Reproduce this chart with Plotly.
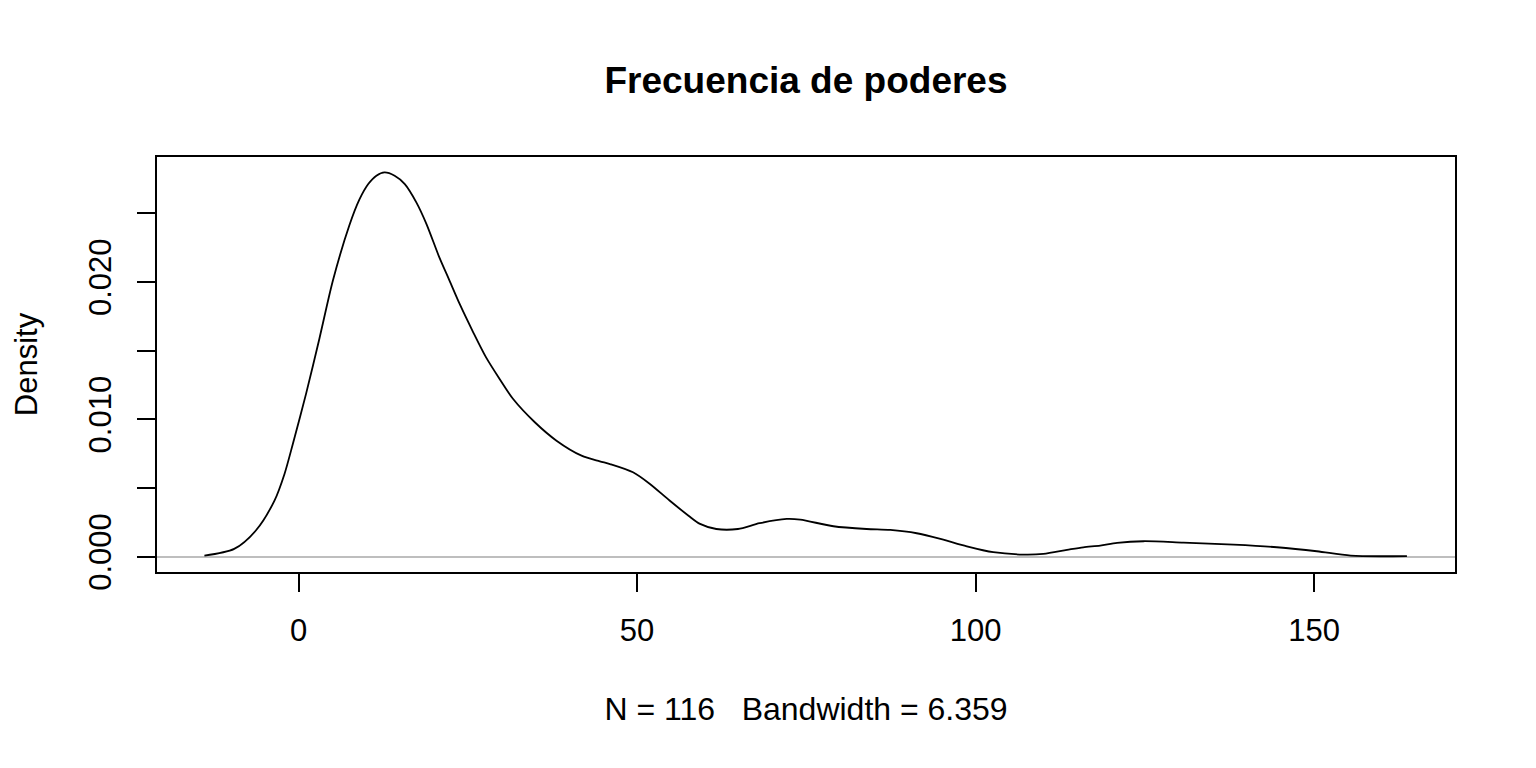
import plotly.graph_objects as go

# Density curve values
dens_x = [-13.9, -9.5, -6.3, -3.55, -2.07, -0.84, 1.14, 3.10, 5.08,
          7.5, 9.0, 10.3, 11.5, 12.7, 14.2, 15.7, 17.4, 18.9, 20.8, 22.3, 23.8, 25.8, 27.7,
          29.7, 31.7, 34.9, 38.1, 41.8, 44.5, 46.0, 49.4, 51.9, 54.8, 57.6, 59.3, 61.7, 64.9,
          68.1, 72.1, 74.1, 79.0, 83.9, 87.4, 91.3, 94.8, 98.7, 102.6, 107.1, 110.0, 113.5,
          115.9, 118.4, 120.9, 124.8, 130.7, 138.1, 144.5, 150.4, 155.4, 163.7]
dens_y = [0.00007, 0.00056, 0.0019, 0.00408, 0.00602, 0.0082, 0.0119, 0.0159,
          0.0201, 0.0241, 0.0260, 0.02712, 0.02773, 0.02797,
          0.02773, 0.02712, 0.02579, 0.02421, 0.02178, 0.02009, 0.01839, 0.01633, 0.0145,
          0.01293, 0.01147, 0.00978, 0.00844, 0.00735, 0.00694, 0.00674, 0.00614, 0.00529,
          0.00408, 0.00298, 0.00238, 0.00201, 0.00201, 0.00243, 0.00274, 0.00269, 0.00221,
          0.00201, 0.00194, 0.0017, 0.00129, 0.00075, 0.00032, 0.00015, 0.0002, 0.00049,
          0.00068, 0.0008, 0.001, 0.00112, 0.00102, 0.00087, 0.00068, 0.00039, 0.00007,
          0.00004]

x_ticks = [0, 50, 100, 150]
x_tick_labels = ["0", "50", "100", "150"]
y_ticks = [0.0, 0.005, 0.010, 0.015, 0.020, 0.025]
y_tick_labels = ["0.000", "", "0.010", "", "0.020", ""]

title_text = "Frecuencia de poderes"
x_title = "N = 116\u00a0\u00a0\u00a0Bandwidth = 6.359"
y_title = "Density"

FONT = "Liberation Sans, Arial, sans-serif"

fig = go.Figure()
fig.add_trace(go.Scatter(
    x=dens_x, y=dens_y, mode="lines",
    line=dict(color="black", width=1.8, shape="spline", smoothing=0.8),
    hoverinfo="skip", showlegend=False,
))

fig.update_layout(
    width=1536, height=768, autosize=False,
    paper_bgcolor="white", plot_bgcolor="white",
    margin=dict(l=157, r=81, t=157, b=196),
    font=dict(family=FONT, size=31, color="black"),
    title=dict(text="<b>" + title_text + "</b>", x=(157 + 1455) / 2 / 1536, xanchor="center",
               y=1 - 80 / 768, yanchor="middle", yref="container",
               font=dict(family=FONT, size=37, color="black")),
    showlegend=False,
)

fig.update_xaxes(
    range=[-20.9, 170.8], tickvals=x_ticks, ticktext=x_tick_labels,
    ticks="outside", ticklen=18, tickwidth=2, tickcolor="black",
    showline=True, linecolor="black", linewidth=2, mirror=True,
    showgrid=False, zeroline=False,
    tickfont=dict(family=FONT, size=31, color="black"),
    ticklabelstandoff=12,
    title=dict(text=x_title, font=dict(family=FONT, size=32, color="black"), standoff=50),
)
fig.update_yaxes(
    range=[-0.00112, 0.02909], tickvals=y_ticks, ticktext=y_tick_labels,
    ticks="outside", ticklen=18, tickwidth=2, tickcolor="black",
    showline=True, linecolor="black", linewidth=2, mirror=True,
    showgrid=False, zeroline=True, zerolinecolor="#BEBEBE", zerolinewidth=1.5,
    tickangle=-90, tickfont=dict(family=FONT, size=31, color="black"),
    ticklabelstandoff=14,
    title=dict(text=y_title, font=dict(family=FONT, size=31, color="black"), standoff=36),
)

fig.write_html("out.html", config={"displayModeBar": False},
               post_script="document.body.style.margin='0';document.body.style.overflow='hidden';")
